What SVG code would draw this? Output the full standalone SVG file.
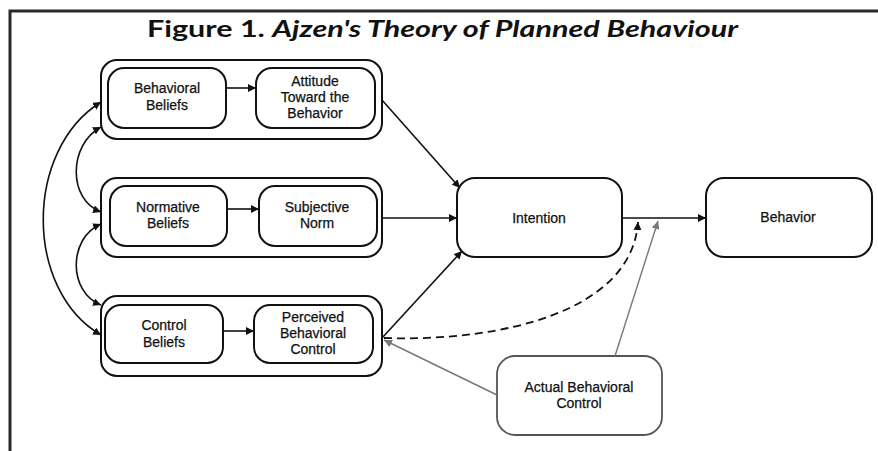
<svg xmlns="http://www.w3.org/2000/svg" width="878" height="451" viewBox="0 0 878 451">
  <style>
    .frame { fill: none; stroke: #2a2a2a; stroke-width: 3; }
    .box { fill: #fff; stroke: #111; stroke-width: 2; }
    .gbox { fill: #fff; stroke: #555; stroke-width: 1.8; }
    .lbl { font-family: "Liberation Sans", Arial, sans-serif; font-size: 14px; fill: #111; stroke: #111; stroke-width: 0.25; text-anchor: middle; }
    .title { font-family: Lato, "Open Sans", sans-serif; font-size: 23px; font-weight: bold; fill: #111; }
    .edge { fill: none; stroke: #111; stroke-width: 1.6; }
    .dash { fill: none; stroke: #111; stroke-width: 1.8; stroke-dasharray: 8 5; }
    .gray { fill: none; stroke: #777; stroke-width: 1.4; }
  </style>
  <defs>
    <marker id="ah" viewBox="0 0 10 10" refX="10" refY="5" markerWidth="8" markerHeight="8" markerUnits="userSpaceOnUse" orient="auto-start-reverse">
      <path d="M0,0 L10,5 L0,10 z" fill="#111"/>
    </marker>
    <marker id="ahg" viewBox="0 0 10 10" refX="10" refY="5" markerWidth="8" markerHeight="8" markerUnits="userSpaceOnUse" orient="auto">
      <path d="M0,0 L10,5 L0,10 z" fill="#777"/>
    </marker>
  </defs>
  <rect width="878" height="451" fill="#fff"/>

  <!-- page frame: top and left rule -->
  <path class="frame" d="M10,451 L10,11 L878,11"/>

  <!-- heading -->
  <text class="title" x="147" y="37" textLength="591" lengthAdjust="spacingAndGlyphs">Figure 1. <tspan font-style="italic">Ajzen's Theory of Planned Behaviour</tspan></text>

  <!-- attitude group -->
  <g id="attitude-group">
    <rect class="box" x="101" y="60" width="281" height="79" rx="16"/>
    <g id="behavioral-beliefs">
      <rect class="box" x="108" y="68" width="118" height="60" rx="16"/>
      <text class="lbl" x="167" y="93">Behavioral</text>
      <text class="lbl" x="167" y="110">Beliefs</text>
    </g>
    <g id="attitude">
      <rect class="box" x="256" y="68" width="119" height="60" rx="16"/>
      <text class="lbl" x="315" y="86">Attitude</text>
      <text class="lbl" x="315" y="102">Toward the</text>
      <text class="lbl" x="315" y="118">Behavior</text>
    </g>
  </g>

  <!-- norm group -->
  <g id="norm-group">
    <rect class="box" x="101" y="178" width="281" height="79" rx="16"/>
    <g id="normative-beliefs">
      <rect class="box" x="110" y="186" width="117" height="60" rx="16"/>
      <text class="lbl" x="168" y="212">Normative</text>
      <text class="lbl" x="168" y="228">Beliefs</text>
    </g>
    <g id="subjective-norm">
      <rect class="box" x="259" y="186" width="118" height="60" rx="16"/>
      <text class="lbl" x="317" y="212">Subjective</text>
      <text class="lbl" x="317" y="228">Norm</text>
    </g>
  </g>

  <!-- control group -->
  <g id="control-group">
    <rect class="box" x="101" y="296" width="281" height="80" rx="16"/>
    <g id="control-beliefs">
      <rect class="box" x="105" y="305" width="118" height="58" rx="16"/>
      <text class="lbl" x="164" y="330">Control</text>
      <text class="lbl" x="164" y="347">Beliefs</text>
    </g>
    <g id="perceived-control">
      <rect class="box" x="254" y="305" width="119" height="58" rx="16"/>
      <text class="lbl" x="313" y="322">Perceived</text>
      <text class="lbl" x="313" y="338">Behavioral</text>
      <text class="lbl" x="313" y="354">Control</text>
    </g>
  </g>

  <g id="intention">
    <rect class="box" x="457" y="178" width="165" height="79" rx="18"/>
    <text class="lbl" x="539" y="223">Intention</text>
  </g>

  <g id="behavior">
    <rect class="box" x="706" y="178" width="166" height="79" rx="18"/>
    <text class="lbl" x="788" y="222">Behavior</text>
  </g>

  <g id="actual-control">
    <rect class="gbox" x="497" y="356" width="165" height="79" rx="18"/>
    <text class="lbl" x="579" y="392">Actual Behavioral</text>
    <text class="lbl" x="579" y="408">Control</text>
  </g>

  <!-- connectors -->
  <g id="connectors">
    <!-- belief to component -->
    <path class="edge" d="M226,88 L256,88" marker-end="url(#ah)"/>
    <path class="edge" d="M227,209 L259,209" marker-end="url(#ah)"/>
    <path class="edge" d="M223,331 L254,331" marker-end="url(#ah)"/>

    <!-- correlations between belief groups -->
    <path class="edge" d="M101,102 C24,150 24,290 101,335" marker-start="url(#ah)" marker-end="url(#ah)"/>
    <path class="edge" d="M101,127 C68,145 68,200 101,212" marker-start="url(#ah)" marker-end="url(#ah)"/>
    <path class="edge" d="M101,224 C68,238 68,292 101,305" marker-start="url(#ah)" marker-end="url(#ah)"/>

    <!-- components to intention -->
    <path class="edge" d="M382,100 L460,188" marker-end="url(#ah)"/>
    <path class="edge" d="M382,218 L457,218" marker-end="url(#ah)"/>
    <path class="edge" d="M382,338 L462,251" marker-end="url(#ah)"/>

    <!-- intention to behavior -->
    <path class="edge" d="M622,218 L706,218" marker-end="url(#ah)"/>

    <!-- perceived control moderating -->
    <path class="dash" d="M384,338 C500,342 632,312 638,222" marker-end="url(#ah)"/>

    <!-- actual control links -->
    <path class="gray" d="M615,356 L658,221" marker-end="url(#ahg)"/>
    <path class="gray" d="M497,395 L384,340" marker-end="url(#ahg)"/>
  </g>
</svg>
